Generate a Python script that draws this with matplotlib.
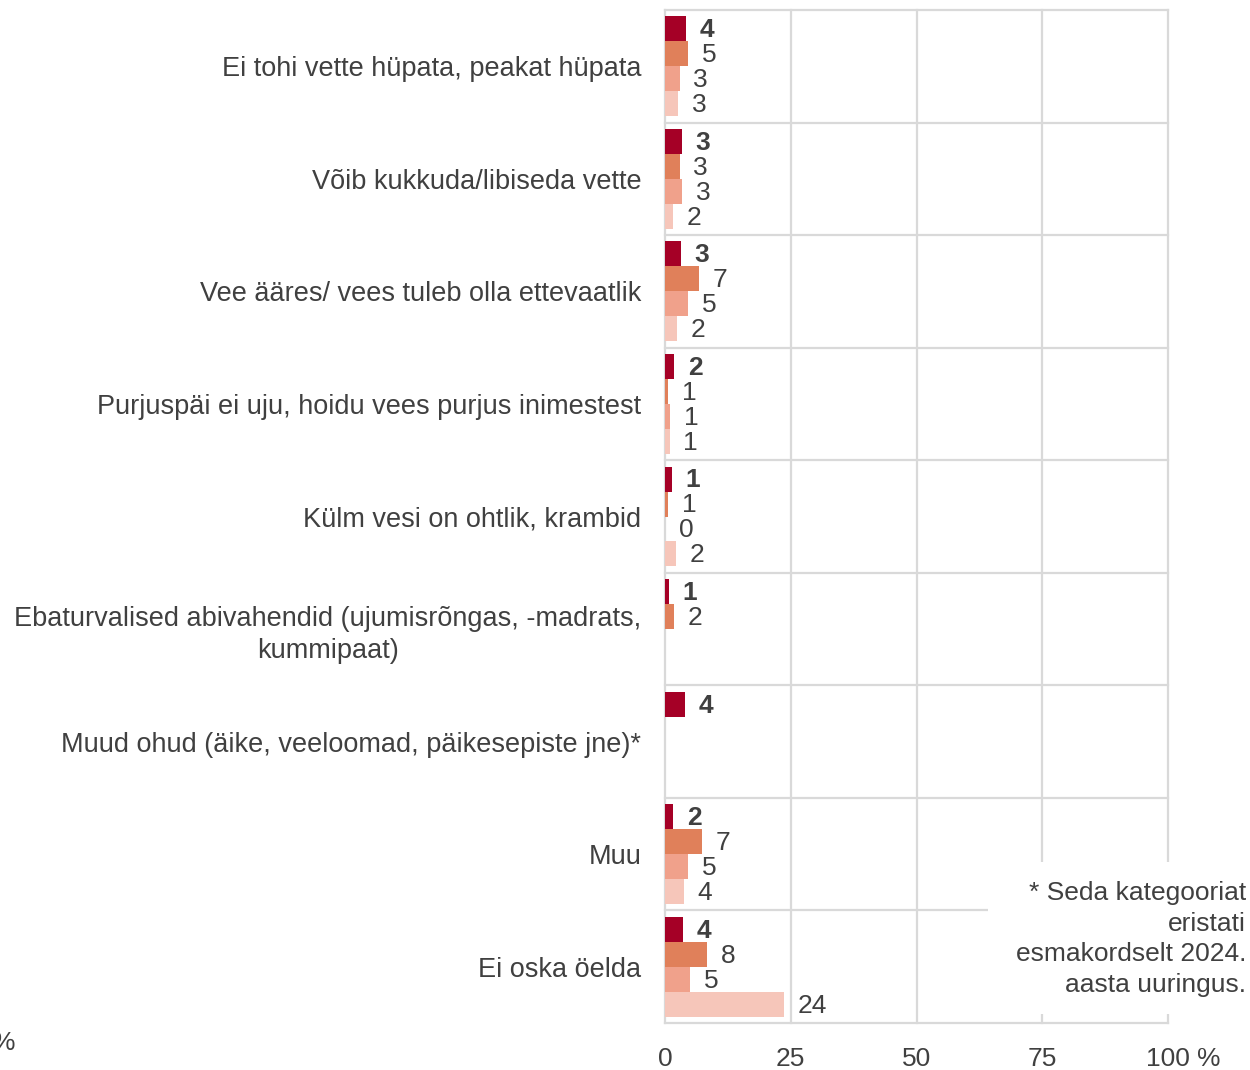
import numpy as np
import matplotlib
matplotlib.use("Agg")
import matplotlib.pyplot as plt
from matplotlib.patches import Rectangle

plt.rcParams['font.family'] = ['Liberation Sans', 'DejaVu Sans']

categories = [
    "Ei tohi vette hüpata, peakat hüpata",
    "Võib kukkuda/libiseda vette",
    "Vee ääres/ vees tuleb olla ettevaatlik",
    "Purjuspäi ei uju, hoidu vees purjus inimestest",
    "Külm vesi on ohtlik, krambid",
    "Ebaturvalised abivahendid (ujumisrõngas, -madrats,\nkummipaat)",
    "Muud ohud (äike, veeloomad, päikesepiste jne)*",
    "Muu",
    "Ei oska öelda",
]

# four survey waves, newest first (values in %)
series_1 = [4.1, 3.3, 3.1, 1.8, 1.3, 0.7, 3.9, 1.6, 3.6]
series_2 = [4.6, 2.9, 6.7, 0.6, 0.6, 1.7, np.nan, 7.3, 8.3]
series_3 = [2.9, 3.3, 4.6, 1.0, 0.0, np.nan, np.nan, 4.6, 4.9]
series_4 = [2.6, 1.6, 2.3, 0.9, 2.1, np.nan, np.nan, 3.7, 23.6]

colors = ["#a50026", "#e0805a", "#f0a18b", "#f6c6ba"]
text_col = "#404040"
grid_col = "#d9d9d9"
fs = 19

fig = plt.figure(figsize=(12.5, 10.7), dpi=100)
ax = fig.add_axes([665 / 1250, 1 - 1023 / 1070, 503 / 1250, 1013 / 1070])

n = len(categories)
y = np.arange(n)
h = 25 / 112.6
all_series = [series_1, series_2, series_3, series_4]

for i, (vals, c) in enumerate(zip(all_series, colors)):
    pos = y - 1.5 * h + i * h
    for yy, v in zip(pos, vals):
        if np.isnan(v):
            continue
        ax.barh(yy, v, height=h, color=c, zorder=2)
        ax.annotate(f"{v:.0f}", xy=(v, yy), xytext=(10, -1),
                    textcoords="offset points", va="center", ha="left",
                    fontsize=fs, color=text_col,
                    fontweight="bold" if i == 0 else "normal")

ax.set_xlim(0, 100)
ax.set_ylim(n - 0.5, -0.5)

# grid: category boundaries and x ticks
for b in np.arange(n + 1) - 0.5:
    ax.axhline(b, color=grid_col, lw=1.6, zorder=1, clip_on=False)
for x in [0, 25, 50, 75, 100]:
    ax.axvline(x, color=grid_col, lw=1.6, zorder=1, clip_on=False)

for s in ax.spines.values():
    s.set_visible(False)

ax.set_yticks(y)
ax.set_yticklabels(categories, fontsize=19.5, color=text_col, ha="right",
                   multialignment="center", linespacing=1.3)
ax.tick_params(axis="y", length=0, pad=17)
ax.set_xticks([0, 25, 50, 75, 100])
ax.set_xticklabels(["0", "25", "50", "75", "100"], fontsize=fs, color=text_col)
ax.tick_params(axis="x", length=0, pad=17)
ax.annotate("%", xy=(100, 0), xycoords=("data", "axes fraction"),
            xytext=(21, -17), textcoords="offset points", ha="left", va="top",
            fontsize=fs, color=text_col, annotation_clip=False)

# clipped legend remnant at lower left
fig.text(-8 / 1250, 1 - 1043 / 1070, "%", fontsize=fs, color=text_col,
         ha="left", va="center")

# footnote box
fig.add_artist(Rectangle((988 / 1250, 1 - 1014 / 1070), 270 / 1250, 152 / 1070,
                         transform=fig.transFigure, fc="white", ec="none", zorder=5))
fig.text(1246 / 1250, 1 - 939 / 1070,
         "* Seda kategooriat\neristati\nesmakordselt 2024.\naasta uuringus.",
         fontsize=fs, color=text_col, ha="right", va="center",
         multialignment="right", linespacing=1.36, zorder=6)

fig.savefig("out.png", dpi=100, facecolor="white")
